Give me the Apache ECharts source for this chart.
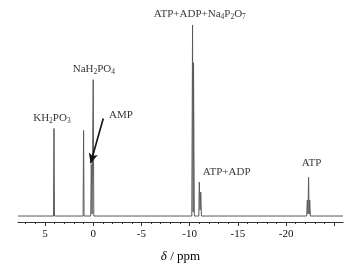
<!DOCTYPE html>
<html>
<head>
<meta charset="utf-8">
<script src="https://cdn.jsdelivr.net/npm/echarts@6/dist/echarts.min.js"></script>
<style>
  html, body { margin: 0; padding: 0; background: #fff; }
  #chart { width: 363px; height: 268px; }
</style>
</head>
<body>
<div id="chart"></div>
<script>
// 31P NMR spectrum (ppm, relative intensity)
const spectrumPpm = [7.8, 4.12, 4.07, 4.02, 1.05, 1.0, 0.95, 0.26, 0.2, 0.12, 0.05, 0.0, -0.06,
  -10.22, -10.3, -10.36, -10.4, -10.48, -10.95, -11.0, -11.08, -11.15, -11.22,
  -22.13, -22.2, -22.27, -22.33, -22.39, -22.45, -22.52, -25.9];
const spectrumIntensity = [6, 6, 94, 6, 6, 92, 6, 6, 58, 8, 7, 143, 6,
  6, 198, 10, 160, 6, 6, 40, 12, 30, 6,
  6, 22, 8, 45, 8, 22, 6, 6];

// tick values
const minorTicks = [7, 6, 5, 4, 3, 2, 1, 0, -1, -2, -3, -4, -5, -6, -7, -8, -9, -10, -11, -12,
  -13, -14, -15, -16, -17, -18, -19, -20, -21, -22, -23, -24, -25];
const majorTicks = [5, 0, -5, -10, -15, -20, -25];
const tickLabels = [5, 0, -5, -10, -15, -20];

// peak annotations (rich text) and where they sit
const peakNames = [
  '{n|KH}{s|2}{n|PO}{s|3}',
  '{n|NaH}{s|2}{n|PO}{s|4}',
  '{n|AMP}',
  '{n|ATP+ADP+Na}{s|4}{n|P}{s|2}{n|O}{s|7}',
  '{n|ATP+ADP}',
  '{n|ATP}'
];
const nameAt = [[4.28, 104], [-0.07, 154], [-2.87, 107], [-11.05, 209], [-13.84, 50], [-22.64, 59]];
const arrowFrom = [-1.04, 104];
const arrowTo = [0.27, 59];

const FONT = '"Liberation Serif", "Times New Roman", serif';

const chart = echarts.init(document.getElementById('chart'));

const lineData = spectrumPpm.map((p, i) => [p, spectrumIntensity[i]]);
const labelData = nameAt.map((c, i) => ({ value: c, name: peakNames[i] }));

const richStyle = {
  n: { fontFamily: FONT, fontSize: 11, color: '#000', lineHeight: 14 },
  s: { fontFamily: FONT, fontSize: 7.5, color: '#000', lineHeight: 14, padding: [6, 0, 0, 0] }
};

chart.setOption({
  animation: false,
  backgroundColor: '#fff',
  grid: { left: 18, right: 20, top: 23, bottom: 45 },
  xAxis: [
    {
      type: 'value',
      inverse: true,
      min: -25.9,
      max: 7.8,
      name: '{i|δ} {t|/ ppm}',
      nameLocation: 'middle',
      nameGap: 28,
      nameTextStyle: {
        rich: {
          i: { fontFamily: FONT, fontStyle: 'italic', fontSize: 13, color: '#000' },
          t: { fontFamily: FONT, fontSize: 13, color: '#000' }
        }
      },
      axisLine: { show: true, onZero: false, lineStyle: { color: '#333', width: 1 } },
      axisTick: { show: true, inside: false, length: 2, customValues: minorTicks, lineStyle: { color: '#333' } },
      axisLabel: {
        customValues: tickLabels,
        margin: 7,
        fontFamily: FONT,
        fontSize: 11,
        color: '#111'
      },
      splitLine: { show: false }
    },
    {
      type: 'value',
      inverse: true,
      min: -25.9,
      max: 7.8,
      position: 'bottom',
      axisLine: { show: false },
      axisTick: { show: true, inside: false, length: 4, customValues: majorTicks, lineStyle: { color: '#333' } },
      axisLabel: { show: false },
      splitLine: { show: false }
    }
  ],
  yAxis: {
    type: 'value',
    min: 0,
    max: 200,
    show: false
  },
  series: [
    {
      type: 'line',
      data: lineData,
      showSymbol: false,
      smooth: false,
      lineStyle: { color: '#5a5a5a', width: 1 },
      clip: false,
      markLine: {
        silent: true,
        symbol: ['none', 'arrow'],
        symbolSize: [7, 10],
        label: { show: false },
        lineStyle: { color: '#111', width: 1.6, type: 'solid' },
        data: [[{ coord: arrowFrom }, { coord: arrowTo }]]
      }
    },
    {
      type: 'scatter',
      data: labelData,
      symbolSize: 0,
      silent: true,
      clip: false,
      label: {
        show: true,
        position: 'inside',
        formatter: p => p.name,
        rich: richStyle
      }
    }
  ]
});
</script>
</body>
</html>
